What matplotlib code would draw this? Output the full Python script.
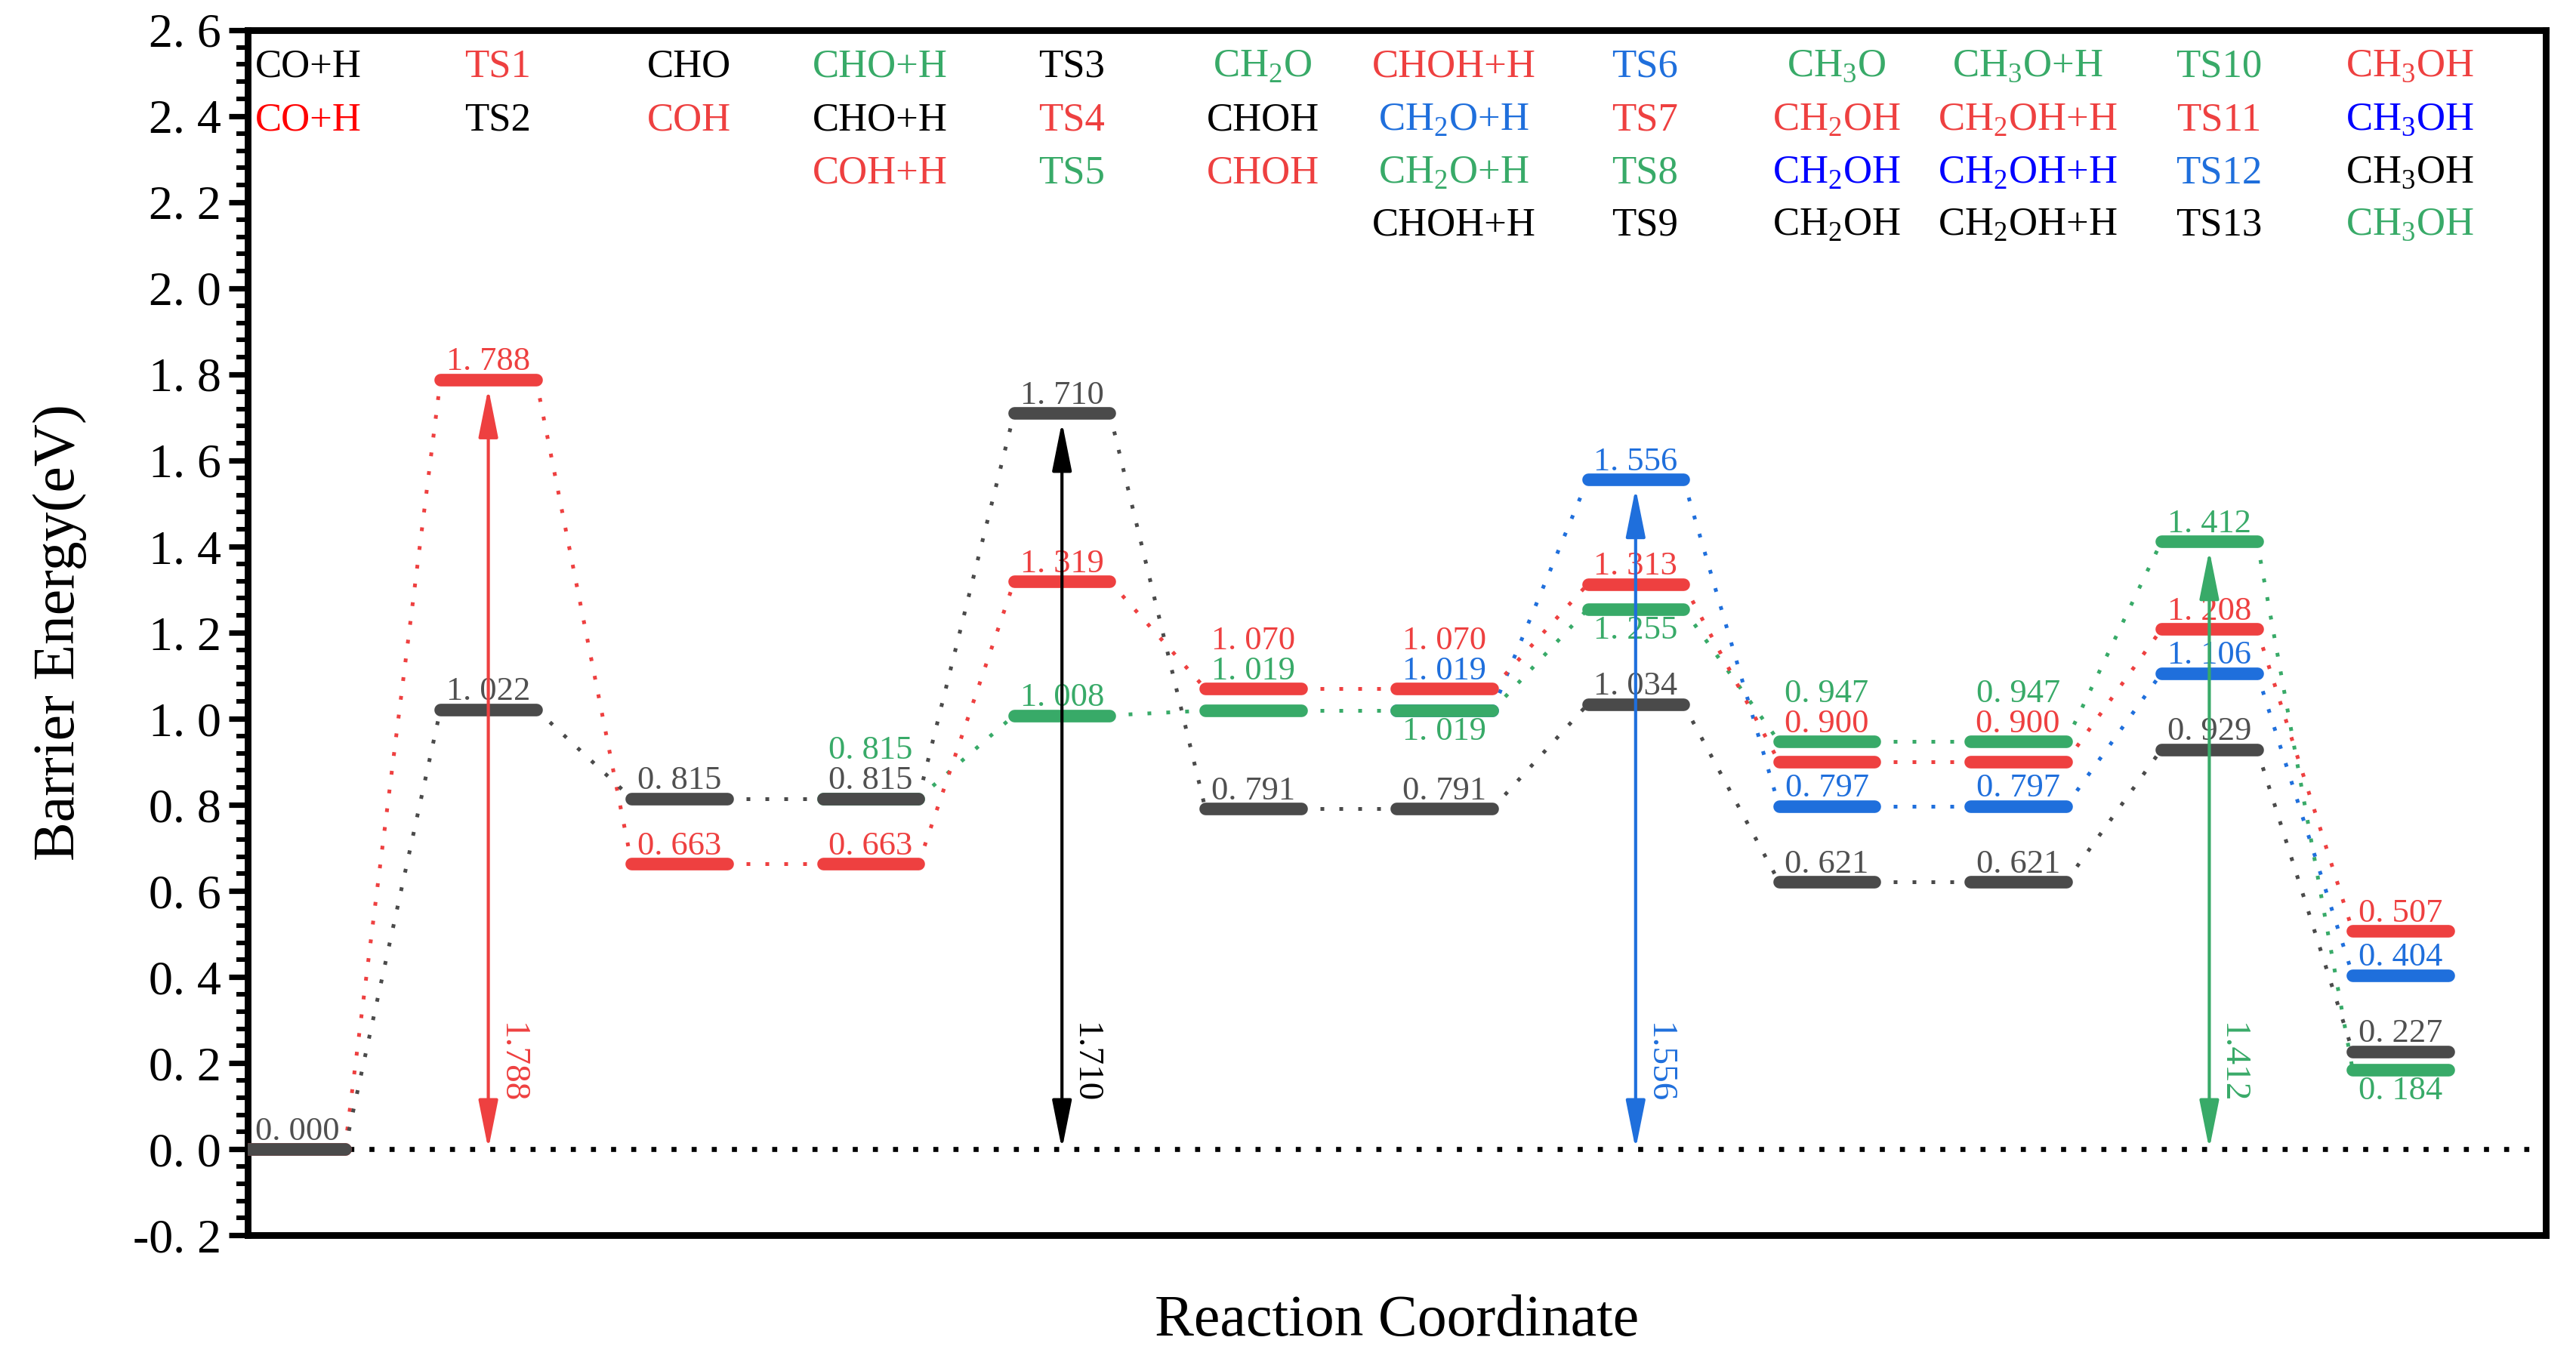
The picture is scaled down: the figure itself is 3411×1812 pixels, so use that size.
import matplotlib
matplotlib.use("Agg")
import matplotlib.pyplot as plt
from matplotlib.ticker import MultipleLocator, FuncFormatter

plt.rcParams['font.family'] = ['Liberation Serif', 'DejaVu Serif']
plt.rcParams['mathtext.fontset'] = 'custom'
plt.rcParams['mathtext.rm'] = 'Liberation Serif'

# energies (eV) of every pathway, indexed by position on the reaction coordinate
black_x = [0, 1, 2, 3, 4, 5, 6, 7, 8, 9, 10, 11]
black_E = [0.000, 1.022, 0.815, 0.815, 1.710, 0.791, 0.791, 1.034, 0.621, 0.621, 0.929, 0.227]
red_x = [0, 1, 2, 3, 4, 5, 6, 7, 8, 9, 10, 11]
red_E = [0.000, 1.788, 0.663, 0.663, 1.319, 1.070, 1.070, 1.313, 0.900, 0.900, 1.208, 0.507]
green_x = [3, 4, 5, 6, 7, 8, 9, 10, 11]
green_E = [0.815, 1.008, 1.019, 1.019, 1.255, 0.947, 0.947, 1.412, 0.184]
blue_x = [6, 7, 8, 9, 10, 11]
blue_E = [1.019, 1.556, 0.797, 0.797, 1.106, 0.404]

# rate limiting barriers marked with arrows
barrier_x = [1, 4, 7, 10]
barrier_E = [1.788, 1.710, 1.556, 1.412]

# species names written across the top
legend_text = [
    ["CO+H", "CO+H"],
    ["TS1", "TS2"],
    ["CHO", "COH"],
    ["CHO+H", "CHO+H", "COH+H"],
    ["TS3", "TS4", "TS5"],
    ["CH$_\\mathregular{2}$O", "CHOH", "CHOH"],
    ["CHOH+H", "CH$_\\mathregular{2}$O+H", "CH$_\\mathregular{2}$O+H", "CHOH+H"],
    ["TS6", "TS7", "TS8", "TS9"],
    ["CH$_\\mathregular{3}$O", "CH$_\\mathregular{2}$OH", "CH$_\\mathregular{2}$OH", "CH$_\\mathregular{2}$OH"],
    ["CH$_\\mathregular{3}$O+H", "CH$_\\mathregular{2}$OH+H", "CH$_\\mathregular{2}$OH+H", "CH$_\\mathregular{2}$OH+H"],
    ["TS10", "TS11", "TS12", "TS13"],
    ["CH$_\\mathregular{3}$OH", "CH$_\\mathregular{3}$OH", "CH$_\\mathregular{3}$OH", "CH$_\\mathregular{3}$OH"],
]

RED = '#EE4040'
GREEN = '#38AA68'
BLUE = '#1F6FDC'
GRAY = '#4A4A4A'
legend_color = [
    ['black', '#FF0000'], [RED, 'black'], ['black', RED], [GREEN, 'black', RED],
    ['black', RED, GREEN], [GREEN, 'black', RED], [RED, BLUE, GREEN, 'black'],
    [BLUE, RED, GREEN, 'black'], [GREEN, RED, '#0000FF', 'black'],
    [GREEN, RED, '#0000FF', 'black'], [GREEN, RED, BLUE, 'black'],
    [RED, '#0000FF', 'black', GREEN],
]

hw = 0.25      # half width of an energy level
row = 0.07     # spacing of stacked value labels


def fmt(v, nd):
    return f"{v:.{nd}f}".replace('.', '. ')


fig = plt.figure(figsize=(17.06, 9.06), dpi=200)
ax = fig.add_axes([0.096, 0.097, 0.892, 0.881])

# where a value label goes: (base energy, stacked row) or 'below' or None
spots = {
    ('red', 0): None,
    ('green', 3): (black_E[3], 1),
    ('green', 5): (red_E[5], 0),
    ('red', 5): (red_E[5], 1),
    ('blue', 6): (red_E[6], 0),
    ('red', 6): (red_E[6], 1),
    ('green', 6): 'below',
    ('green', 7): 'below',
    ('red', 8): (green_E[5], 0),
    ('green', 8): (green_E[5], 1),
    ('red', 9): (green_E[6], 0),
    ('green', 9): (green_E[6], 1),
    ('green', 11): 'below',
}

paths = [('blue', blue_x, blue_E, BLUE, BLUE),
         ('green', green_x, green_E, GREEN, GREEN),
         ('red', red_x, red_E, RED, RED),
         ('black', black_x, black_E, GRAY, '#505050')]

for name, xs, Es, col, tcol in paths:
    for k in range(len(xs) - 1):
        ax.plot([xs[k] + hw, xs[k + 1] - hw], [Es[k], Es[k + 1]],
                ls=(0, (1, 4)), color=col, lw=1.8, zorder=2)
    for x, E in zip(xs, Es):
        ax.plot([x - hw, x + hw], [E, E], color=col, lw=6,
                solid_capstyle='round', zorder=3)
    for x, E in zip(xs, Es):
        spot = spots.get((name, x), (E, 0))
        if spot is None:
            continue
        if spot == 'below':
            ax.text(x, E - 0.014, fmt(E, 3), color=tcol, fontsize=16,
                    ha='center', va='top', zorder=4)
        else:
            ax.text(x, spot[0] + 0.006 + spot[1] * row, fmt(E, 3), color=tcol,
                    fontsize=16, ha='center', va='bottom', zorder=4)

# zero reference line
ax.plot([hw + 0.02, 11.76], [0, 0], ls=(0, (1, 3)), color='black', lw=2.4, zorder=1)

arrow_colors = [RED, 'black', BLUE, GREEN]
for x, E, c in zip(barrier_x, barrier_E, arrow_colors):
    ax.annotate('', xy=(x, E - 0.02), xytext=(x, 0),
                arrowprops=dict(arrowstyle='<|-|>,head_length=0.9,head_width=0.18',
                                color=c, lw=1.5, shrinkA=0, shrinkB=0,
                                mutation_scale=22), zorder=5)
    ax.text(x + 0.035, 0.2, fmt(E, 3).replace(' ', ''), color=c, fontsize=17,
            rotation=-90, ha='left', va='center')

# species names on top
row_y = [2.515, 2.39, 2.268, 2.146]
for i, (names, cols) in enumerate(zip(legend_text, legend_color)):
    for j, (t, c) in enumerate(zip(names, cols)):
        if i == 0:
            ax.text(-0.22, row_y[j], t, color=c, fontsize=19, ha='left', va='center')
        else:
            ax.text(i + 0.05, row_y[j], t, color=c, fontsize=19, ha='center', va='center')

ax.set_xlim(-0.26, 11.76)
ax.set_ylim(-0.2, 2.6)
ax.yaxis.set_major_locator(MultipleLocator(0.2))
ax.yaxis.set_minor_locator(MultipleLocator(0.04))
ax.yaxis.set_major_formatter(FuncFormatter(lambda v, p: fmt(v, 1)))
ax.tick_params(axis='y', which='major', direction='out', length=9, width=2.6, labelsize=23)
ax.tick_params(axis='y', which='minor', direction='out', length=5.5, width=2.2)
ax.tick_params(axis='x', bottom=False, labelbottom=False)
for s in ax.spines.values():
    s.set_linewidth(3.2)

ax.set_ylabel("Barrier Energy(eV)", fontsize=28, labelpad=22)
ax.set_xlabel("Reaction Coordinate", fontsize=28, labelpad=28)

fig.savefig("out.png", dpi=200)
